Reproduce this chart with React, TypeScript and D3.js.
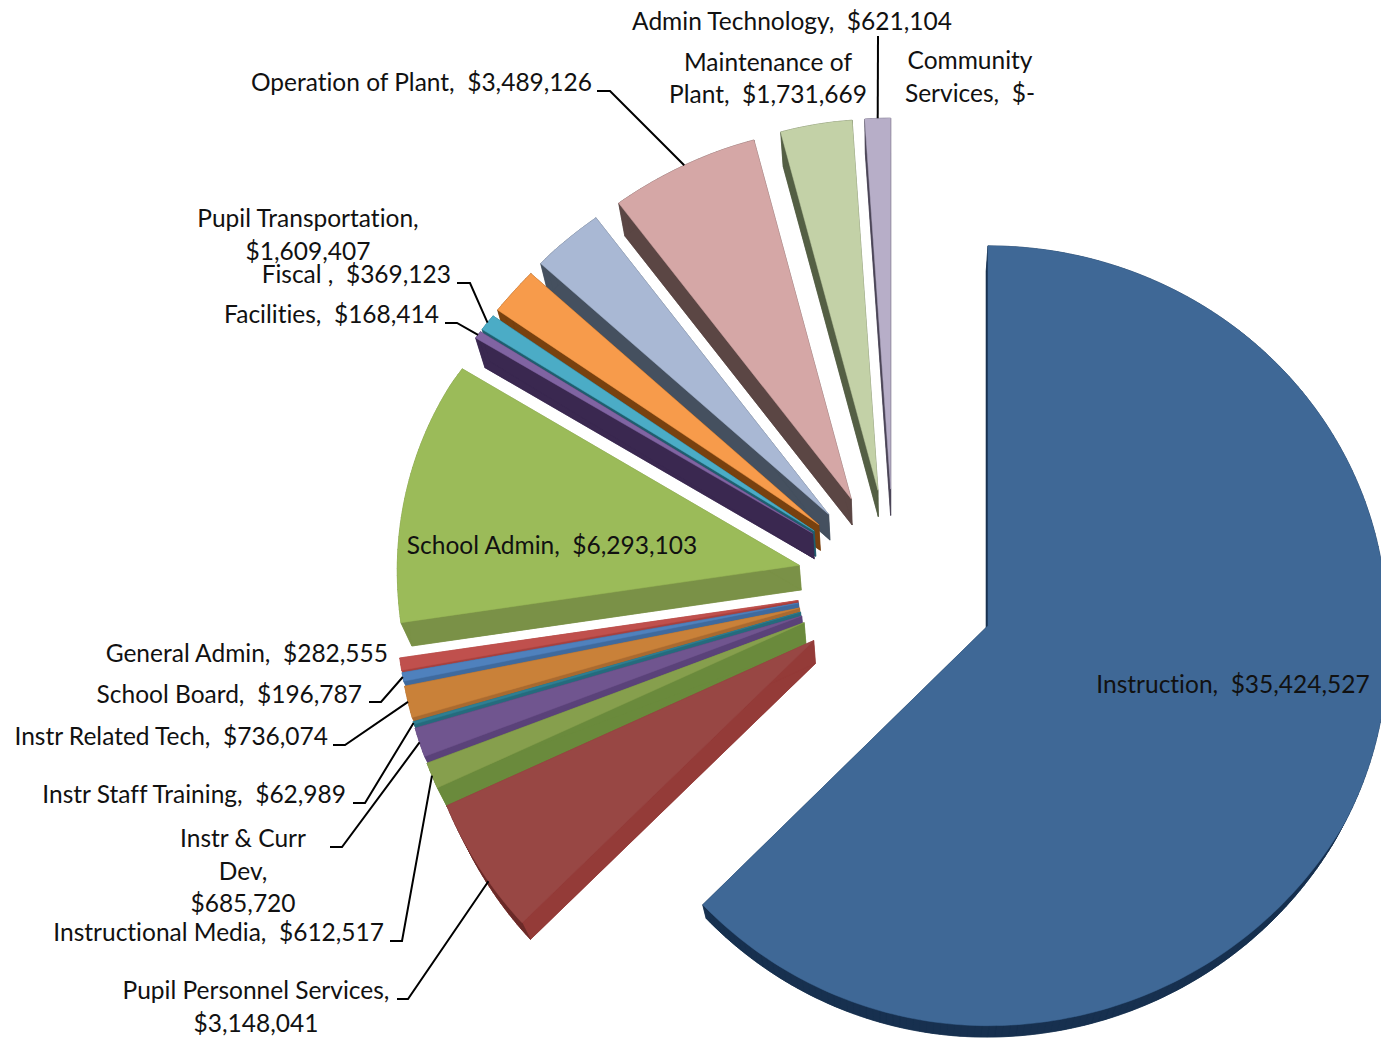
import React from "react";
import * as d3 from "d3";

// Budget lines, clockwise from twelve o'clock.
const categories = [
  "Instruction", "Pupil Personnel Services", "Instructional Media", "Instr & Curr Dev",
  "Instr Staff Training", "Instr Related Tech", "School Board", "General Admin",
  "School Admin", "Facilities", "Fiscal", "Central Services", "Pupil Transportation",
  "Operation of Plant", "Maintenance of Plant", "Admin Technology", "Community Services",
];
const amounts = [
  35424527, 3148041, 612517, 685720, 62989, 736074, 196787, 282555,
  6293103, 168414, 369123, 1050000, 1609407, 3489126, 1731669, 621104, 0,
];
const topColors = [
  "#3f6896", "#984744", "#869f4d", "#70558f", "#2f7f93", "#c98139", "#4f81bd", "#c0504d",
  "#9bbb59", "#8064a2", "#4bacc6", "#f79b4b", "#a9b8d4", "#d5a7a6", "#c3d1a7", "#b7aec8", "#7f7f7f",
];
const edgeColors = [
  "#17304f", "#943b38", "#6a8a3c", "#5a4279", "#256b7d", "#a96a30", "#3f6a9e", "#a8403e",
  "#7a9147", "#3a2850", "#1e5f6f", "#78410f", "#45505f", "#5b4644", "#545f44", "#4a4456", "#555555",
];
const rimColors = [
  "#17304f", "#6b2b29", "#6a8a3c", "#5a4279", "#256b7d", "#a96a30", "#3f6a9e", "#a8403e",
  "#7a9147", "#3a2850", "#1e5f6f", "#78410f", "#45505f", "#5b4644", "#545f44", "#4a4456", "#555555",
];

// Label lines: text, x, baseline y.
type Caption = { lines: [string, number, number][]; anchor: "start" | "middle" | "end" };
const captions: Caption[] = [
  { anchor: "middle", lines: [["Admin Technology,  $621,104", 792, 30]] },
  { anchor: "middle", lines: [["Maintenance of", 768, 71], ["Plant,  $1,731,669", 768, 103]] },
  { anchor: "middle", lines: [["Community", 970, 69], ["Services,  $-", 970, 102]] },
  { anchor: "end", lines: [["Operation of Plant,  $3,489,126", 592, 91]] },
  { anchor: "middle", lines: [["Pupil Transportation,", 308, 227], ["$1,609,407", 308, 260]] },
  { anchor: "end", lines: [["Fiscal ,  $369,123", 451, 283]] },
  { anchor: "end", lines: [["Facilities,  $168,414", 439, 323]] },
  { anchor: "middle", lines: [["School Admin,  $6,293,103", 552, 554]] },
  { anchor: "end", lines: [["General Admin,  $282,555", 388, 662]] },
  { anchor: "end", lines: [["School Board,  $196,787", 362, 703]] },
  { anchor: "end", lines: [["Instr Related Tech,  $736,074", 328, 745]] },
  { anchor: "end", lines: [["Instr Staff Training,  $62,989", 346, 803]] },
  { anchor: "middle", lines: [["Instr & Curr", 243, 847], ["Dev,", 243, 880], ["$685,720", 243, 912]] },
  { anchor: "end", lines: [["Instructional Media,  $612,517", 384, 941]] },
  { anchor: "middle", lines: [["Pupil Personnel Services,", 256, 999], ["$3,148,041", 256, 1032]] },
  { anchor: "middle", lines: [["Instruction,  $35,424,527", 1233, 693]] },
];

// Leader lines: slice index, where along its arc they land (0..1), and their elbow points.
const leaders: { slice: number; at: number; elbow: [number, number][] }[] = [
  { slice: 15, at: 0.5, elbow: [[878, 36]] },
  { slice: 13, at: 0.5, elbow: [[597, 91], [610, 91]] },
  { slice: 10, at: 0.5, elbow: [[457, 283], [470, 283]] },
  { slice: 9, at: 0.5, elbow: [[445, 323], [457, 323]] },
  { slice: 6, at: 0.5, elbow: [[369, 702], [381, 702]] },
  { slice: 5, at: 0.5, elbow: [[333, 745], [345, 745]] },
  { slice: 4, at: 0.5, elbow: [[353, 803], [365, 803]] },
  { slice: 3, at: 0.5, elbow: [[330, 847], [342, 847]] },
  { slice: 2, at: 0.5, elbow: [[390, 941], [402, 941]] },
  { slice: 1, at: 0.38, elbow: [[397, 999], [408, 999]] },
];

const WIDTH = 1381;
const HEIGHT = 1038;
const center = { x: 894, y: 586 };
const explodeMain = 102;
const explodeRest = 97;
const radius = { left: 402, right: 399, rightLowBulge: 11, down: 400, up: 371 };
// Extrusion heads toward a far vanishing point below the pie.
const vanish = { x: 890, y: 1660, k: 0.0225 };
const mainDepth = 0.8;
// Far-left foreshortening, keyed on the cosine of the slice angle.
const farLeftX = d3.scaleLinear().domain([0, 0.5, 0.7, 1]).range([1, 0.998, 0.968, 0.932]);
const farLeftY = d3.scaleLinear().domain([0, 0.5, 0.7, 1]).range([1, 0.975, 1, 1]);
const leftSag = 4;
// The near corner of the second slice reaches a little further out.
const nearCorner = d3.scaleLinear().domain([0.4, 0.7]).range([1, 1.012]).clamp(true);

type Pt = [number, number];
const pieLayout = d3.pie<number>().sort(null).value((d) => d);
const slices = pieLayout(amounts);
const line = d3.line<Pt>();

function apexOf(i: number): Pt {
  const s = slices[i];
  const mid = (s.startAngle + s.endAngle) / 2;
  const e = i === 0 ? explodeMain : explodeRest;
  return [center.x + e * Math.sin(mid), center.y - e * Math.cos(mid)];
}

// The pie is seen from slightly above: far side foreshortened, near side fuller.
function rimPoint(i: number, theta: number): Pt {
  const [ax, ay] = apexOf(i);
  const sin = Math.sin(theta);
  const cos = Math.cos(theta);
  const nearReach = i === 1 ? nearCorner(-cos) : 1;
  const leftR = radius.left * (cos > 0 ? farLeftX(cos) : i === 0 ? 0.99 : nearReach);
  const rightR = radius.right + (cos < 0 ? radius.rightLowBulge * Math.min(1, -cos / 0.5) : 0);
  const rx = sin > 0 ? rightR : leftR;
  const ry = cos > 0 ? (radius.up + (ay - 490) * 0.065) * farLeftY(sin < 0 ? cos : 1) : radius.down * nearReach;
  const sag = sin < 0 ? leftSag * Math.pow(-sin, 10) : 0;
  return [ax + rx * sin, ay - ry * cos + sag];
}

const sinkBy = (depth: number) => ([x, y]: Pt): Pt => [
  x + (vanish.x - x) * vanish.k * depth,
  y + (vanish.y - y) * vanish.k * depth,
];

function rimOf(i: number): Pt[] {
  const s = slices[i];
  const steps = Math.max(2, Math.ceil(((s.endAngle - s.startAngle) * 180) / Math.PI));
  return d3.range(steps + 1).map((k) =>
    rimPoint(i, s.startAngle + ((s.endAngle - s.startAngle) * k) / steps)
  );
}

function Slice({ i }: { i: number }) {
  const apex = apexOf(i);
  const rim = rimOf(i);
  const outline: Pt[] = [apex, ...rim];
  const edge = edgeColors[i];
  const rimFill = rimColors[i];
  const first = rim[0];
  const last = rim[rim.length - 1];
  const sink = sinkBy(i === 0 ? mainDepth : 1);
  const quad = (a: Pt, b: Pt) => line([a, b, sink(b), sink(a)]) + "Z";
  return (
    <g>
      <path d={line(outline.map(sink)) + "Z"} fill={edge} stroke={edge} strokeWidth={0.5} />
      <path d={quad(apex, first)} fill={edge} stroke={edge} strokeWidth={0.5} />
      <path d={quad(apex, last)} fill={edge} stroke={edge} strokeWidth={0.5} />
      {rim.slice(1).map((p, k) => (
        <path key={k} d={quad(rim[k], p)} fill={rimFill} stroke={rimFill} strokeWidth={0.5} />
      ))}
      <path d={line(outline) + "Z"} fill={topColors[i]} stroke={topColors[i]} strokeWidth={0.5} />
    </g>
  );
}

export default function App() {
  // Later slices overlap the extruded sides of the ones before, so paint in reverse.
  const order = d3.range(amounts.length).reverse().filter((i) => amounts[i] > 0);
  return (
    <svg
      width={WIDTH}
      height={HEIGHT}
      viewBox={`0 0 ${WIDTH} ${HEIGHT}`}
      style={{ position: "absolute", left: 0, top: 0, display: "block", background: "#fff" }}
    >
      <title>{categories.join(", ")}</title>
      {order.map((i) => (
        <Slice key={i} i={i} />
      ))}
      {leaders.map((l, k) => {
        const s = slices[l.slice];
        const end = rimPoint(l.slice, s.startAngle + (s.endAngle - s.startAngle) * l.at);
        return (
          <path
            key={k}
            d={line([...l.elbow, end]) ?? ""}
            fill="none"
            stroke="#000"
            strokeWidth={2}
          />
        );
      })}
      <g
        fontFamily="Lato, Carlito, 'Open Sans', sans-serif"
        fontSize={24.5}
        fill="#111"
        style={{ fontVariantLigatures: "none" }}
      >
        {captions.map((c, k) => (
          <g key={k} textAnchor={c.anchor}>
            {c.lines.map(([t, x, y], n) => (
              <text key={n} x={x} y={y} style={{ whiteSpace: "pre" }}>
                {t}
              </text>
            ))}
          </g>
        ))}
      </g>
    </svg>
  );
}
